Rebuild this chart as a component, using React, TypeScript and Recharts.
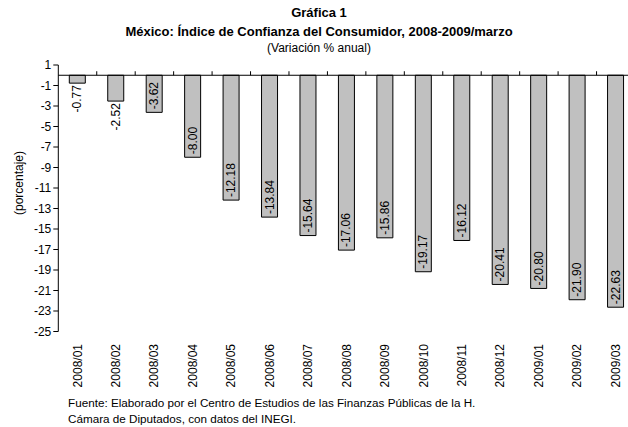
import React from "react";
import { BarChart, Bar, XAxis, YAxis, ReferenceLine, LabelList } from "recharts";

const categories = [
  "2008/01", "2008/02", "2008/03", "2008/04", "2008/05", "2008/06", "2008/07",
  "2008/08", "2008/09", "2008/10", "2008/11", "2008/12", "2009/01", "2009/02", "2009/03",
];
const values = [
  -0.77, -2.52, -3.62, -8.0, -12.18, -13.84, -15.64, -17.06, -15.86, -19.17, -16.12, -20.41,
  -20.8, -21.9, -22.63,
];
const yTicks = [1, -1, -3, -5, -7, -9, -11, -13, -15, -17, -19, -21, -23, -25];

const data = categories.map((c, i) => ({ cat: c, v: values[i] }));

const FONT = "'Liberation Sans', Arial, sans-serif";
const CHART_W = 640;
const CHART_H = 427;
const M_TOP = 65;
const M_RIGHT = 5;
const Y_AXIS_W = 58.3;
const X_AXIS_H = 95.5;
const Y_MAX = 1;
const Y_MIN = -25;
const PLOT_H = CHART_H - M_TOP - X_AXIS_H;
const PLOT_BOTTOM = M_TOP + PLOT_H;
const BAND = (CHART_W - M_RIGHT - Y_AXIS_W) / categories.length;
const ZERO_Y = M_TOP + ((Y_MAX - 0) / (Y_MAX - Y_MIN)) * PLOT_H;
const FS = 12;

const XTick = (props: any) => {
  const { x, payload } = props;
  return (
    <g>
      <line x1={x + BAND / 2} x2={x + BAND / 2} y1={ZERO_Y - 4} y2={ZERO_Y} stroke="#000" strokeWidth={1} />
      <text
        transform={`translate(${x},${PLOT_BOTTOM + 12.5}) rotate(-90)`}
        textAnchor="end"
        dominantBaseline="central"
        fontSize={FS}
        fontFamily={FONT}
        fill="#000"
      >
        {payload.value}
      </text>
    </g>
  );
};

const ValueLabel = (props: any) => {
  const { x, y, width, height, value } = props;
  const top = Math.min(y, y + height);
  const bottom = Math.max(y, y + height);
  const len = bottom - top;
  const txt = Number(value).toFixed(2);
  const est = (0.333 + 0.278 + 0.556 * (txt.length - 2)) * FS;
  const cx = x + width / 2;
  const inside = len >= est + 5;
  const ay = inside ? bottom - 3 : bottom + 2;
  return (
    <text
      transform={`translate(${cx},${ay}) rotate(-90)`}
      textAnchor={inside ? "start" : "end"}
      dominantBaseline="central"
      fontSize={FS}
      fontFamily={FONT}
      fill="#000"
    >
      {txt}
    </text>
  );
};

export default function App() {
  return (
    <div
      style={{
        position: "fixed",
        left: 0,
        top: 0,
        width: 628,
        height: 427,
        overflow: "hidden",
        background: "#fff",
        fontFamily: FONT,
        color: "#000",
      }}
    >
      <div style={{ position: "absolute", left: 0, width: 638, top: 3, textAlign: "center", fontSize: 13, fontWeight: "bold", lineHeight: "19px" }}>
        Gráfica 1
        <br />
        México: Índice de Confianza del Consumidor, 2008-2009/marzo
      </div>
      <div style={{ position: "absolute", left: 0, width: 638, top: 40, textAlign: "center", fontSize: 12, lineHeight: "16px" }}>
        (Variación % anual)
      </div>
      <div style={{ position: "absolute", left: 0, top: 0 }}>
        <BarChart
          width={CHART_W}
          height={CHART_H}
          data={data}
          margin={{ top: M_TOP, right: M_RIGHT, bottom: 0, left: 0 }}
          barSize={16}
        >
          <YAxis
            width={Y_AXIS_W}
            domain={[Y_MIN, Y_MAX]}
            ticks={yTicks}
            interval={0}
            tickSize={5}
            tickMargin={2}
            axisLine={{ stroke: "#000" }}
            tickLine={{ stroke: "#000" }}
            tick={{ fill: "#000", fontSize: FS, fontFamily: FONT }}
          />
          <XAxis
            dataKey="cat"
            height={X_AXIS_H}
            axisLine={false}
            tickLine={false}
            interval={0}
            tick={<XTick />}
          />
          <Bar dataKey="v" fill="#C0C0C0" stroke="#000" strokeWidth={1} isAnimationActive={false}>
            <LabelList dataKey="v" content={<ValueLabel />} />
          </Bar>
          <ReferenceLine y={0} stroke="#000" strokeWidth={1} />
        </BarChart>
      </div>
      <div
        style={{
          position: "absolute",
          left: 19,
          top: 183,
          transform: "translate(-50%,-50%) rotate(-90deg)",
          fontSize: FS,
          whiteSpace: "nowrap",
        }}
      >
        (porcentaje)
      </div>
      <div style={{ position: "absolute", left: 68, top: 395, fontSize: 11.7, lineHeight: "16px" }}>
        Fuente: Elaborado por el Centro de Estudios de las Finanzas Públicas de la H.
        <br />
        Cámara de Diputados, con datos del INEGI.
      </div>
    </div>
  );
}
